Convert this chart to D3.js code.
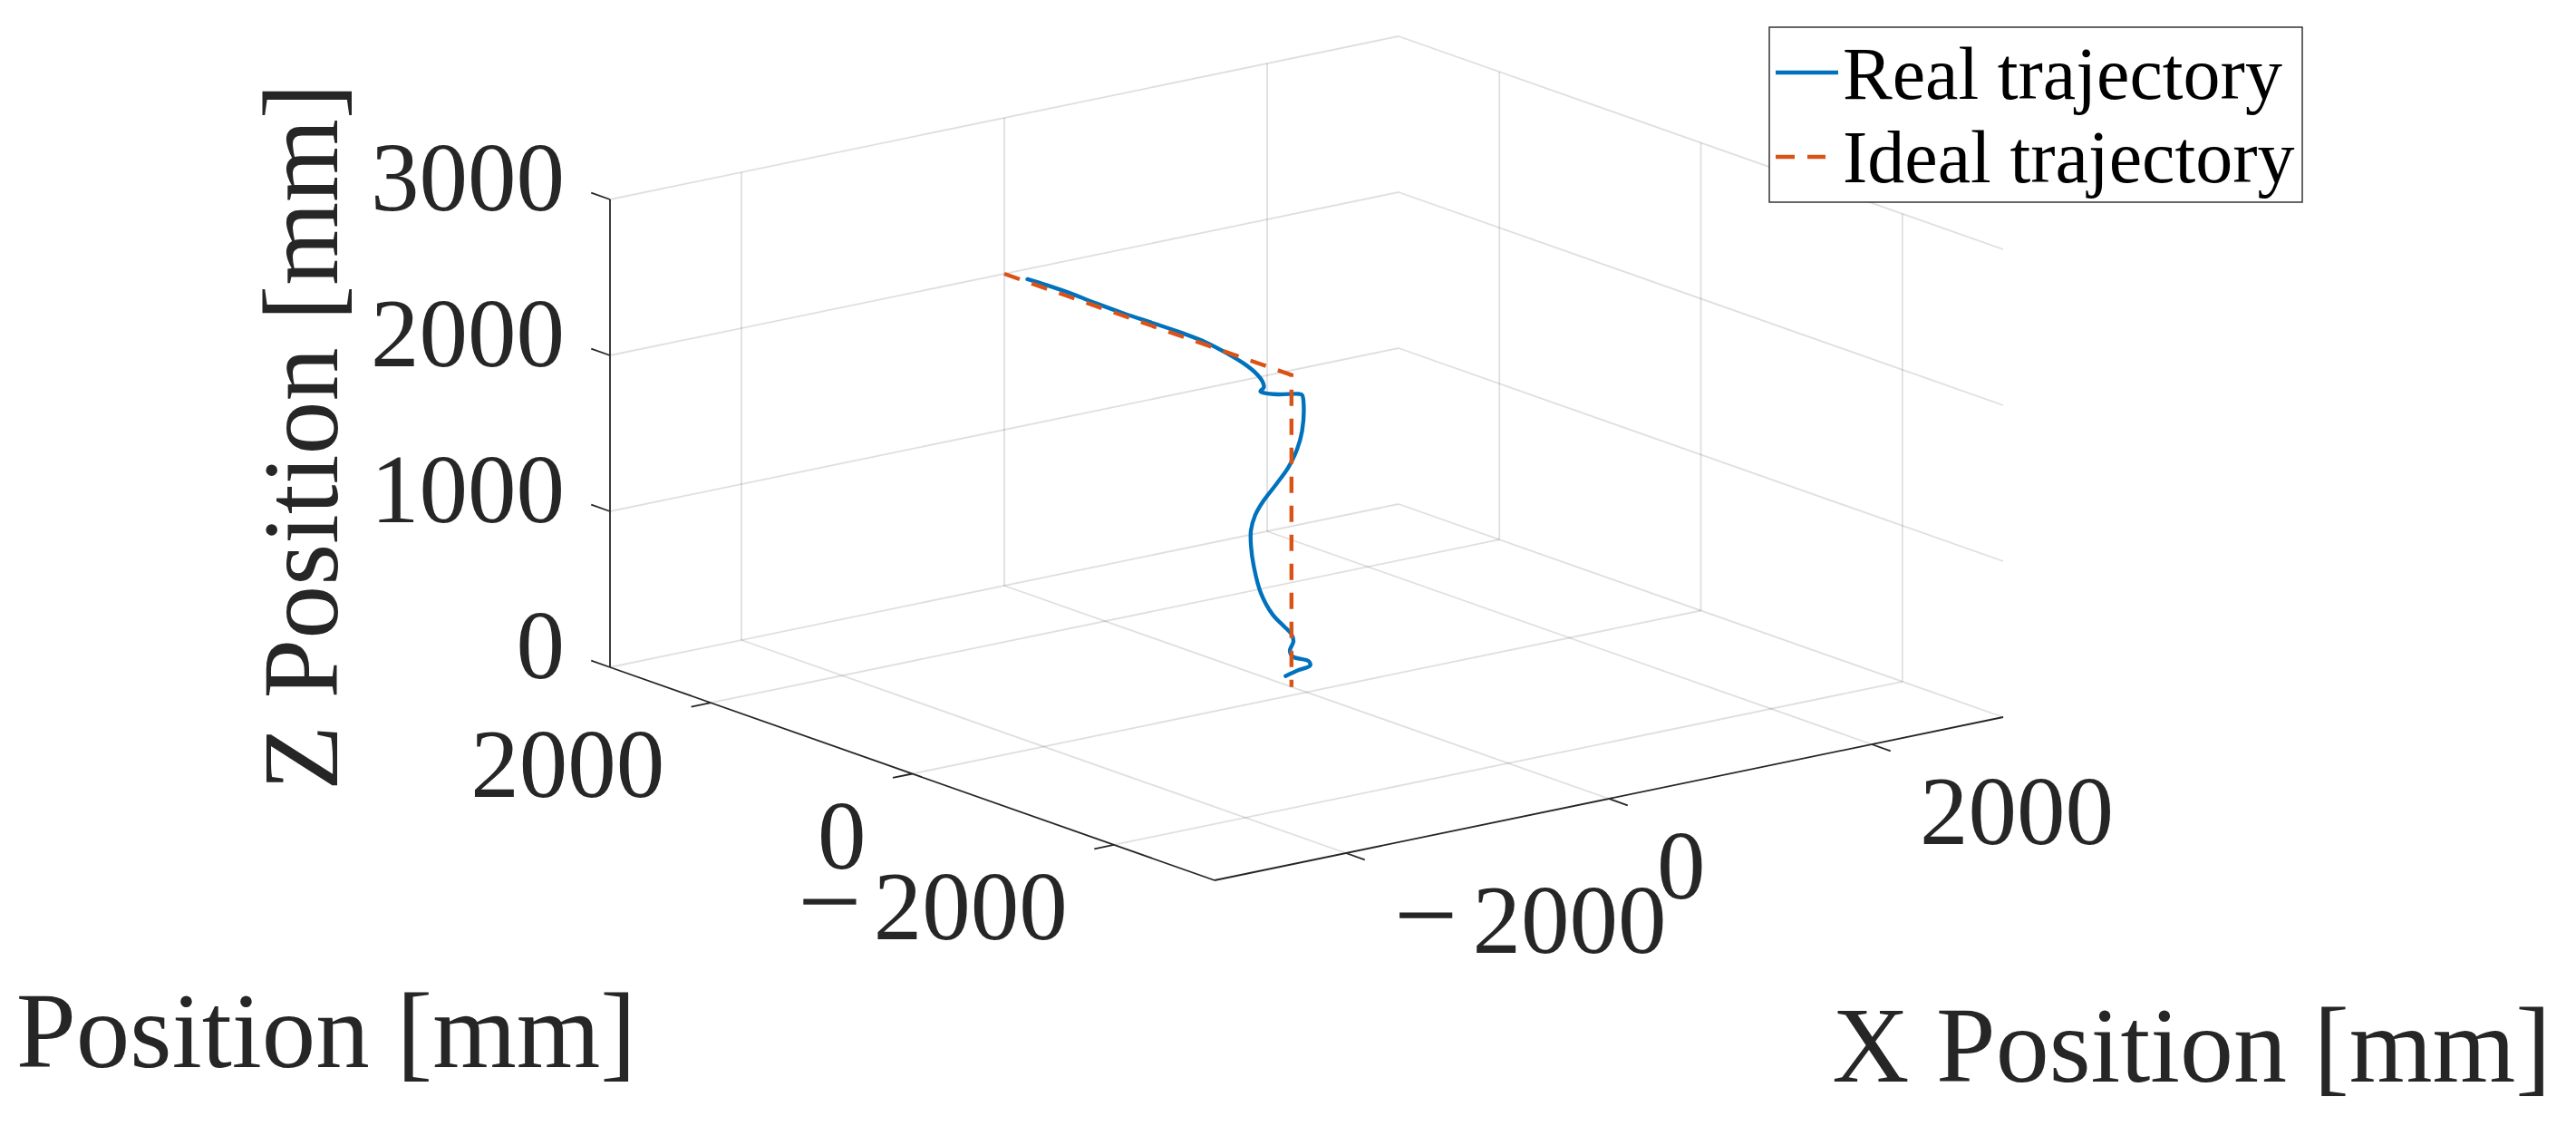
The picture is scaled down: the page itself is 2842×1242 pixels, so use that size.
<!DOCTYPE html>
<html><head><meta charset="utf-8">
<script src="https://cdn.jsdelivr.net/npm/d3@7"></script>
<style>html,body{margin:0;padding:0;background:#fff;} svg{display:block;}</style>
</head><body>
<svg id="chart" width="2842" height="1242"></svg>
<script>
// ---------- data ----------
const xDomain = [-3000, 3000];
const yDomain = [-3000, 3000];
const zDomain = [0, 3000];
const xTicks = [-2000, 0, 2000];
const yTicks = [-2000, 0, 2000];
const zTicks = [0, 1000, 2000, 3000];
const xTickLabels = ["\u22122000", "0", "2000"];
const yTickLabels = ["\u22122000", "0", "2000"];
const zTickLabels = ["0", "1000", "2000", "3000"];
const xLabel = "X Position [mm]";
const yLabel = "Y Position [mm]";
const zLabel = "Z Position [mm]";
const seriesNames = ["Real trajectory", "Ideal trajectory"];

const realY = [2770, 2575, 2317, 2087, 1801, 1514, 1227, 998, 796, 624, 510, 438, 424, 458, 424, 280, 79, 45, 28, 45, 94, 180, 309, 424, 510, 552, 552, 524, 452, 337, 223, 151, 131, 166, 137, -21, -35, 79, 209];
const realZ = [2018, 2023, 2024, 2018, 2016, 2020, 2022, 2016, 1994, 1966, 1934, 1893, 1858, 1825, 1823, 1846, 1895, 1896, 1822, 1664, 1537, 1402, 1257, 1134, 1019, 913, 816, 688, 530, 421, 371, 339, 295, 229, 197, 204, 179, 124, 56];
const realX = realY.map(() => 0);

const idealX = [0, 0, 0];
const idealY = [3000, 150, 150];
const idealZ = [2000, 2000, 0];

// ---------- projection (orthographic view of the 3-D box) ----------
const C0 = [1340, 971];           // screen position of (xMin, yMin, zMin)
const EX = [870, -180], EY = [-667, -235], EZ = [0, -516];
const fx = d3.scaleLinear().domain(xDomain).range([0, 1]);
const fy = d3.scaleLinear().domain(yDomain).range([0, 1]);
const fz = d3.scaleLinear().domain(zDomain).range([0, 1]);
function P(x, y, z) {
  const a = fx(x), b = fy(y), c = fz(z);
  return [C0[0] + a * EX[0] + b * EY[0] + c * EZ[0],
          C0[1] + a * EX[1] + b * EY[1] + c * EZ[1]];
}
function unit(v) { const l = Math.hypot(v[0], v[1]); return [v[0] / l, v[1] / l]; }

const svg = d3.select("#chart");
svg.append("rect").attr("width", 2842).attr("height", 1242).attr("fill", "#fff");

const [x0, x1] = xDomain, [y0, y1] = yDomain, [z0, z1] = zDomain;

// ---------- grid ----------
const grid = [];
xTicks.forEach(x => { grid.push([P(x, y1, z0), P(x, y1, z1)]); grid.push([P(x, y0, z0), P(x, y1, z0)]); });
yTicks.forEach(y => { grid.push([P(x1, y, z0), P(x1, y, z1)]); grid.push([P(x0, y, z0), P(x1, y, z0)]); });
zTicks.forEach(z => { grid.push([P(x0, y1, z), P(x1, y1, z)]); grid.push([P(x1, y0, z), P(x1, y1, z)]); });
svg.append("g").selectAll("line").data(grid).join("line")
  .attr("x1", d => d[0][0]).attr("y1", d => d[0][1])
  .attr("x2", d => d[1][0]).attr("y2", d => d[1][1])
  .attr("stroke", "#262626").attr("stroke-opacity", 0.15).attr("stroke-width", 1.8);

// ---------- axes ----------
const axisCol = "#262626";
const axes = [[P(x0, y1, z0), P(x0, y1, z1)], [P(x0, y0, z0), P(x0, y1, z0)], [P(x0, y0, z0), P(x1, y0, z0)]];
svg.append("g").selectAll("line").data(axes).join("line")
  .attr("x1", d => d[0][0]).attr("y1", d => d[0][1])
  .attr("x2", d => d[1][0]).attr("y2", d => d[1][1])
  .attr("stroke", axisCol).attr("stroke-width", 1.8);

const TL = 22;
const uX = unit(EX), uY = unit(EY);
const tickFont = "'Liberation Serif', 'Times New Roman', serif";
const tickSize = 107;
const g = svg.append("g");

function tickLabel(sel, txt, dxDigits) {
  if (txt.startsWith("\u2212")) {
    sel.append("tspan").attr("font-size", 125).text("\u2212");
    sel.append("tspan").attr("dx", dxDigits).text(txt.slice(1));
  } else sel.text(txt);
}

// Z ticks
zTicks.forEach((z, i) => {
  const p = P(x0, y1, z);
  g.append("line").attr("x1", p[0]).attr("y1", p[1]).attr("x2", p[0] + uY[0] * TL).attr("y2", p[1] + uY[1] * TL)
    .attr("stroke", axisCol).attr("stroke-width", 1.8);
  const t = g.append("text").attr("x", p[0] - 50).attr("y", p[1] + 12).attr("text-anchor", "end")
    .attr("font-family", tickFont).attr("font-size", tickSize).attr("fill", axisCol);
  tickLabel(t, zTickLabels[i], 12);
});
// Y ticks
yTicks.forEach((y, i) => {
  const p = P(x0, y, z0);
  g.append("line").attr("x1", p[0]).attr("y1", p[1]).attr("x2", p[0] - uX[0] * TL).attr("y2", p[1] - uX[1] * TL)
    .attr("stroke", axisCol).attr("stroke-width", 1.8);
  const t = g.append("text").attr("x", p[0] - 51).attr("y", p[1] + 104).attr("text-anchor", "end")
    .attr("font-family", tickFont).attr("font-size", tickSize).attr("fill", axisCol);
  tickLabel(t, yTickLabels[i], 13);
});
// X ticks
xTicks.forEach((x, i) => {
  const p = P(x, y0, z0);
  g.append("line").attr("x1", p[0]).attr("y1", p[1]).attr("x2", p[0] - uY[0] * TL).attr("y2", p[1] - uY[1] * TL)
    .attr("stroke", axisCol).attr("stroke-width", 1.8);
  const t = g.append("text").attr("x", p[0] + 53).attr("y", p[1] + 110).attr("text-anchor", "start")
    .attr("font-family", tickFont).attr("font-size", tickSize).attr("fill", axisCol);
  tickLabel(t, xTickLabels[i], 16);
});

// axis labels
const labFont = tickFont;
svg.append("text").attr("transform", "translate(372,482) rotate(-90)").attr("text-anchor", "middle")
  .attr("font-family", labFont).attr("font-size", 118).attr("fill", axisCol).text(zLabel);
svg.append("text").attr("x", 2418).attr("y", 1193).attr("text-anchor", "middle")
  .attr("font-family", labFont).attr("font-size", 118).attr("fill", axisCol).text(xLabel);
svg.append("text").attr("x", 702).attr("y", 1177).attr("text-anchor", "end")
  .attr("font-family", labFont).attr("font-size", 119).attr("fill", axisCol).text(yLabel);

// ---------- data lines ----------
const realPts = realX.map((x, i) => P(x, realY[i], realZ[i]));
const idealPts = idealX.map((x, i) => P(x, idealY[i], idealZ[i]));
const blue = "#0072BD", red = "#D95319";
svg.append("path").attr("d", d3.line().curve(d3.curveCatmullRom.alpha(0.5))(realPts))
  .attr("fill", "none").attr("stroke", blue).attr("stroke-width", 4.4)
  .attr("stroke-linejoin", "round").attr("stroke-linecap", "round");
svg.append("path").attr("d", d3.line()(idealPts))
  .attr("fill", "none").attr("stroke", red).attr("stroke-width", 4.4)
  .attr("stroke-dasharray", "18 14");

// ---------- legend ----------
const lg = svg.append("g");
lg.append("rect").attr("x", 1952).attr("y", 30).attr("width", 588).attr("height", 193)
  .attr("fill", "#fff").attr("stroke", "#262626").attr("stroke-width", 1.4);
lg.append("line").attr("x1", 1959).attr("x2", 2028).attr("y1", 80).attr("y2", 80)
  .attr("stroke", blue).attr("stroke-width", 4.4);
lg.append("line").attr("x1", 1959).attr("x2", 2014).attr("y1", 173).attr("y2", 173)
  .attr("stroke", red).attr("stroke-width", 4.4).attr("stroke-dasharray", "21 14");
lg.selectAll("text").data(seriesNames).join("text")
  .attr("x", 2033).attr("y", (d, i) => [109, 201][i])
  .attr("font-family", "'Liberation Serif', 'Times New Roman', serif").attr("font-size", 82)
  .attr("fill", "#000").text(d => d);
</script>
</body></html>
